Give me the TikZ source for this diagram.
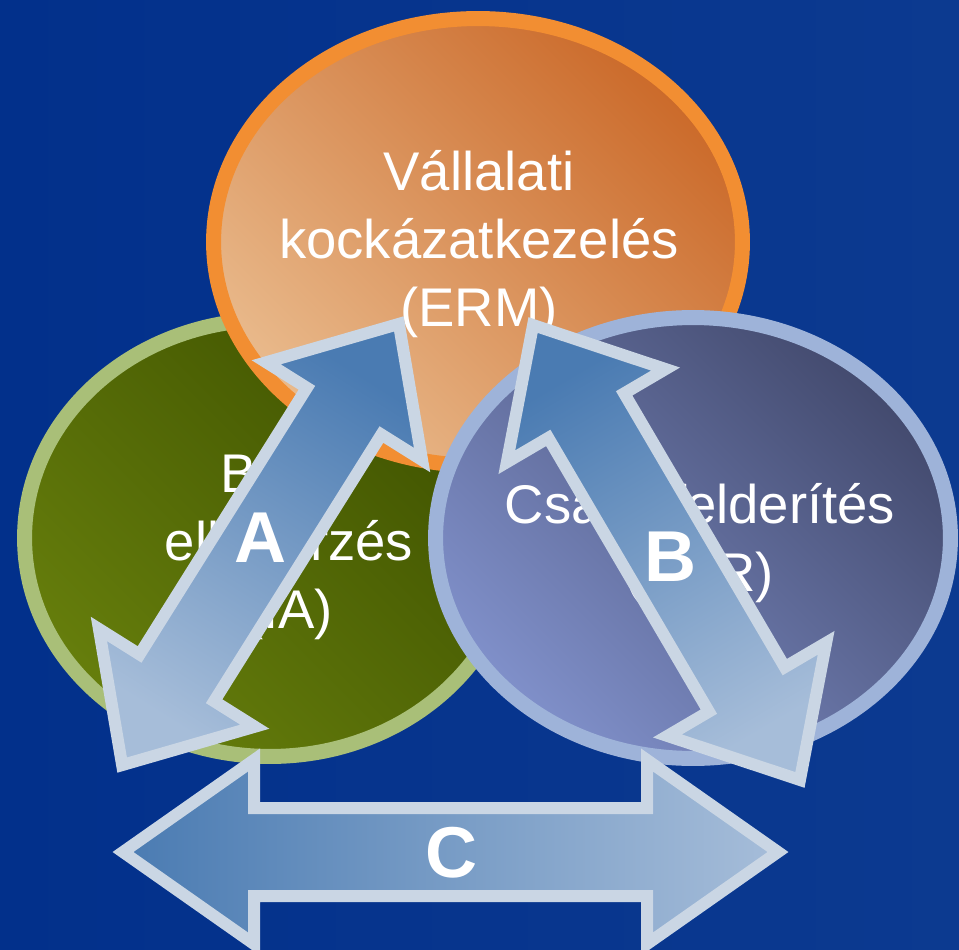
\documentclass[tikz,border=0pt]{standalone}
\usepackage{fontspec}
\setmainfont{Liberation Sans}
\usetikzlibrary{shapes.geometric}
\definecolor{bgblue}{HTML}{02308B}
\definecolor{bglight}{HTML}{0C3A90}
\definecolor{ermedge}{HTML}{F28E32}
\definecolor{ermdark}{HTML}{CB6A2A}
\definecolor{ermlight}{HTML}{E9BA8C}
\definecolor{iaedge}{HTML}{A9BF78}
\definecolor{iadark}{HTML}{3F5200}
\definecolor{ialight}{HTML}{667E0C}
\definecolor{fredge}{HTML}{9EB3D9}
\definecolor{frdark}{HTML}{434A6E}
\definecolor{frlight}{HTML}{8090CA}
\definecolor{arrowedge}{HTML}{CAD6E4}
\definecolor{arrowdark}{HTML}{4A7BB2}
\definecolor{arrowlight}{HTML}{A6BDD9}
\tikzset{
  bubble/.style={ellipse, inner sep=0pt, line width=0.3cm},
  bubbletext/.style={text=white, align=center, font=\fontsize{31}{38.5}\selectfont},
  letter/.style={text=white, font=\bfseries\fontsize{41}{41}\selectfont},
  blockarrow/.style={draw=arrowedge, line width=0.24cm, line join=miter}
}
\begin{document}
\begin{tikzpicture}[x=0.02cm, y=-0.02cm]
\useasboundingbox (0,0) rectangle (959,949);
\shade[left color=bgblue, right color=bglight] (0,0) rectangle (959,949);
% the three areas
\node[bubble, draw=iaedge, top color=iadark, bottom color=ialight, shading angle=-45,
  minimum width=9.82cm, minimum height=8.74cm] (ia) at (270,538) {};
\node[bubble, draw=ermedge, top color=ermdark, bottom color=ermlight, shading angle=-45,
  minimum width=10.58cm, minimum height=8.94cm] (erm) at (478,242) {};
\node[bubble, draw=fredge, top color=frdark, bottom color=frlight, shading angle=-45,
  minimum width=10.3cm, minimum height=8.82cm] (fr) at (693,538) {};
\node[bubbletext] (ermtext) at (479,244) {Vállalati\\kockázatkezelés\\(ERM)};
\node[bubbletext] (iatext) at (289,546) {Belső\\ellenőrzés\\(IA)};
\node[bubbletext] (frtext) at (700,543) {Csalásfelderítés\\(FDR)};
% double arrows: centre / angle / half length / head length
\foreach \mx/\my/\ang/\len/\hl in {260.5/544.5/57.9/260.4/103, 666.5/552.5/120.4/263.7/105, 450.5/852/180/327.5/131}{
  \begin{scope}[shift={(\mx,\my)}, rotate=\ang]
    \pgfmathsetmacro\hb{\len-\hl}
    \shade[blockarrow, top color=arrowdark, bottom color=arrowlight, shading angle=\ang-90]
      (-\len,0) -- (-\hb,92) -- (-\hb,44) -- (\hb,44) -- (\hb,92) -- (\len,0)
      -- (\hb,-92) -- (\hb,-44) -- (-\hb,-44) -- (-\hb,-92) -- cycle;
  \end{scope}
}
\node[letter] (labA) at (261,538) {A};
\node[letter] (labB) at (670,557) {B};
\node[letter] (labC) at (452,853) {C};
\end{tikzpicture}
\end{document}
